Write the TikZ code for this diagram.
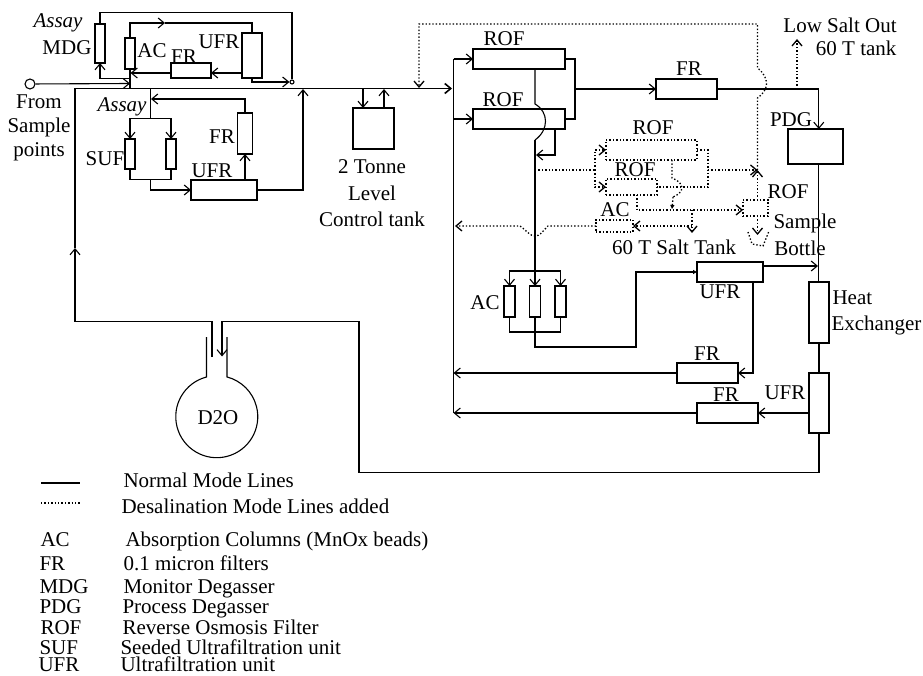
\documentclass[tikz,border=0pt]{standalone}
\usepackage{fontspec}
\setmainfont{Liberation Serif}
\usetikzlibrary{arrows.meta}
\tikzset{
  unit/.style 2 args={draw,inner sep=0pt,outer sep=0pt,minimum width=#1pt,minimum height=#2pt},
  arr/.style={-{Straight Barb[length=6pt,width=10pt]}},
  tri/.style={-{Triangle[open,length=4pt,width=4pt]}},
  salt/.style={line width=1.3pt,dash pattern=on 1.4pt off 2pt},
  main/.style={line width=1.6pt},
  lbl/.style={inner sep=0pt,font=\fontsize{21}{24}\selectfont},
  assay/.style={lbl,font=\fontsize{21}{24}\selectfont\itshape}
}
\begin{document}
\begin{tikzpicture}[x=1pt,y=-1pt,line width=1.1pt]
\useasboundingbox (0,0) rectangle (923,676);
% top sampling loop
\node[draw,circle,inner sep=0pt,minimum size=10pt] (src) at (30,84) {};
\node[unit={10}{39}] (mdg) at (100,43.5) {};
\node[unit={10}{31}] (acTop) at (130,53.5) {};
\node[unit={20}{45}] (ufrTop) at (252,55.5) {};
\node[unit={40}{15}] (frTop) at (191,70.5) {};
\node[draw,circle,inner sep=0pt,minimum size=4pt] (endA) at (292,82) {};
\coordinate (topA) at (292,12.5);
\coordinate (acRun) at (165,23);
\coordinate (frIn) at (211,73);
\coordinate (acIn) at (130.5,73);
\coordinate (junA) at (130,83.5);
\coordinate (junB) at (130,78.5);
\coordinate (mainA) at (130,88.5);
\draw (mdg.north) |- (topA) -- (endA.north);
\draw[arr] (acTop.north) |- (acRun);
\draw (acRun) -| (ufrTop.north);
\draw[arr] (ufrTop.west |- frIn) -- (frIn);
\draw[arr] (frTop.west |- frIn) -- (acIn);
\draw[arr] (src) -- (junA);
\draw (acTop.south) -- (mainA);
\draw[arr] (junB) -| (mdg.south);
\draw[arr] (ufrTop.south) |- (endA.west);
% main line
\coordinate (mainL) at (75,88.5);
\coordinate (mainR) at (452,88.5);
\coordinate (upMark) at (75,248);
\coordinate (cornerL) at (75,321.5);
\coordinate (flaskOut) at (212,357);
\coordinate (flaskIn) at (222,356.5);
\coordinate (retB) at (359,472.5);
\draw[main,arr] (mainL) -- (mainR);
\draw[arr] (flaskOut) |- (cornerL) -- (upMark);
\draw (upMark) -- (mainL);
% D2O flask
\node[lbl] (flask) at (218,418) {D2O};
\draw (206.5,337) -- (206.5,377) arc[start angle=104.5,end angle=435.5,radius=41pt] -- (227,337);
% lower sampling loop
\node[unit={10}{30}] (sufL) at (130,154) {};
\node[unit={10}{30}] (sufR) at (171,154) {};
\node[unit={66}{20}] (ufrLow) at (224,190) {};
\node[unit={15}{41}] (frLow) at (245,133.5) {};
\coordinate (mainB) at (150.5,88.5);
\coordinate (splitA) at (150.5,118.5);
\coordinate (retA) at (151,99);
\coordinate (barA) at (150.5,179.5);
\coordinate (mainC) at (303,89);
\draw (mainB) -- (splitA);
\draw[arr] (splitA) -| (sufL.north);
\draw[arr] (splitA) -| (sufR.north);
\draw[arr] (frLow.north) |- (retA);
\draw (sufL.south) |- (barA) -| (sufR.south);
\draw[arr] (barA) |- (ufrLow.west);
\draw[arr] (ufrLow.north -| frLow) -- (frLow.south);
\draw[arr] (ufrLow.east) -| (mainC);
% level tank
\node[unit={41}{41}] (tank) at (373.5,128.5) {};
\coordinate (tankIn) at (363,88.5);
\coordinate (tankOut) at (384,89);
\draw[arr] (tankIn) -- (tank.north -| tankIn);
\draw[arr] (tank.north -| tankOut) -- (tankOut);
% reverse osmosis and product line
\coordinate (busT) at (453.5,59);
\coordinate (busB) at (453.5,413);
\node[unit={92}{20}] (rofA) at (519,59) {};
\node[unit={92}{20}] (rofB) at (519,119) {};
\node[unit={61}{20}] (frC) at (686.5,89) {};
\node[unit={55}{35}] (pdg) at (815.5,146.5) {};
\node[unit={20}{61}] (hx) at (819,312.5) {};
\node[unit={20}{60}] (ufrE) at (819,403) {};
\coordinate (rofR) at (575,89);
\coordinate (pdgIn) at (818.8,89);
\coordinate (lowOut) at (797,39);
\draw[main] (busT) -- (busB);
\draw[arr] (busT) -- (rofA.west);
\draw[arr] (rofB.west -| busT) -- (rofB.west);
\draw (rofA.east) -| (rofR) |- (rofB.east);
\draw[arr] (rofR) -- (frC.west);
\draw[main] (frC.east) -- (pdgIn);
\draw[arr] (pdgIn) -- (pdg.north -| pdgIn);
\draw (pdg.south -| pdgIn) -- (hx.north -| pdgIn);
\draw (hx.south) -- (ufrE.north);
\draw[salt,arr] (lowOut |- pdgIn) -- (lowOut);
\draw[arr] (ufrE.south) |- (retB) |- (flaskIn |- cornerL) -- (flaskIn);
% absorption columns
\node[unit={11}{31}] (acLeft) at (509.5,301.5) {};
\node[unit={11}{31}] (acMid) at (535,301.5) {};
\node[unit={11}{31}] (acRight) at (560.5,301.5) {};
\node[unit={66}{20}] (ufrM) at (730,272) {};
\node[unit={61}{20}] (frD) at (707.5,373) {};
\node[unit={61}{20}] (frE) at (727.5,413) {};
\coordinate (rofDrop) at (535,104);
\coordinate (rofJoin) at (535,140);
\coordinate (rofTap) at (555,155);
\coordinate (rofRet) at (536,155);
\coordinate (busAC) at (535,271);
\coordinate (barAC) at (535,332);
\coordinate (acRun2) at (636,347);
\coordinate (hxIn) at (818,266);
\coordinate (frTap) at (753,373);
\draw (rofA.south -| rofDrop) -- (rofDrop) .. controls (549,112) and (549,130) .. (rofJoin);
\draw[arr] (rofJoin) -- (acMid.north);
\draw[arr] (rofB.south -| rofTap) -- (rofTap) -- (rofRet);
\draw[arr] (busAC) -| (acLeft.north);
\draw[arr] (busAC) -| (acRight.north);
\draw (acLeft.south) |- (barAC) -| (acRight.south);
\draw[tri] (acMid.south) |- (acRun2) |- (ufrM.west);
\draw[arr] (ufrM.east |- hxIn) -- (hxIn);
\draw[arr] (ufrM.south -| frTap) -- (frTap) -- (frD.east);
\draw[arr] (frD.west) -- (busB |- frD.west);
\draw[arr] (frE.west) -- (busB);
\draw[arr] (ufrE.west |- frE) -- (frE.east);
% desalination lines
\node[unit={91}{20},salt] (rofC) at (651.5,150) {};
\node[unit={51}{16},salt] (rofD) at (631.5,187) {};
\node[unit={25}{16},salt] (rofS) at (755.5,208) {};
\node[unit={37}{12},salt] (acS) at (614.5,226) {};
\coordinate (saltTap) at (535,170);
\coordinate (saltFork) at (595,170);
\coordinate (saltR) at (708,170);
\coordinate (saltMeet) at (757.5,170);
\coordinate (saltIn) at (419,88);
\coordinate (saltTop) at (757.5,24);
\coordinate (cDrop) at (672,178);
\coordinate (dRun) at (637,210);
\coordinate (tankTap) at (692,210);
\coordinate (saltTank) at (692,233);
\coordinate (acTap) at (692,226);
\coordinate (sampleIn) at (757.5,235);
\draw[salt] (saltTap) -- (saltFork);
\draw[salt,arr] (saltFork) |- (rofC.west);
\draw[salt,arr] (saltFork) |- (rofD.west);
\draw[salt] (rofC.east) -| (saltR) |- (rofD.east);
\draw[salt,arr] (saltR) -- (saltMeet);
\draw[salt,arr] (rofS.north -| saltMeet) -- (saltMeet);
\draw[salt,arr] (rofS.south -| saltMeet) -- (sampleIn);
\draw[salt,arr] (saltMeet) -- (757.5,98) .. controls (769,90) and (770,78) .. (757.5,68) -- (saltTop) -| (saltIn);
\draw[salt] (rofC.south -| cDrop) -- (cDrop) .. controls (685,183) and (685,192) .. (673,197);
\draw[salt,tri] (673,197) -- (672,209);
\draw[salt,arr] (rofD.south -| dRun) -- (dRun) -- (rofS.west |- dRun);
\draw[salt,arr] (tankTap) -- (saltTank);
\draw[salt,arr] (acTap) -- (acS.east);
\draw[salt,arr] (acS.west) -- (548,226) .. controls (542,232) and (540,236) .. (535,236) .. controls (530,236) and (527,231) .. (520,226) -- (455,226);
\draw[salt] (748,232) -- (752,244) -- (763,246) -- (769,231);
% labels
\node[assay] (lbAssayA) at (58,23) {Assay};
\node[lbl] (lbMdg) at (67,48) {MDG};
\node[lbl] (lbAcA) at (152,51) {AC};
\node[lbl] (lbFrA) at (184,57) {FR};
\node[lbl] (lbUfrA) at (219,42) {UFR};
\node[lbl] (lbFrom) at (39,102) {From};
\node[lbl] (lbSample) at (39,127) {Sample};
\node[lbl] (lbPoints) at (39,152) {points};
\node[assay] (lbAssayB) at (122,107) {Assay};
\node[lbl] (lbSuf) at (105,159) {SUF};
\node[lbl] (lbFrB) at (222,137) {FR};
\node[lbl] (lbUfrB) at (212,171) {UFR};
\node[lbl] (lbTonne) at (372,167) {2 Tonne};
\node[lbl] (lbLevel) at (372,193) {Level};
\node[lbl] (lbControl) at (372,219) {Control tank};
\node[lbl] (lbRofA) at (504,39) {ROF};
\node[lbl] (lbRofB) at (503,100) {ROF};
\node[lbl] (lbFrC) at (689,69) {FR};
\node[lbl] (lbLow) at (840,25) {Low Salt Out};
\node[lbl,anchor=east] (lbTank) at (897,48) {60 T tank};
\node[lbl] (lbPdg) at (791,120) {PDG};
\node[lbl] (lbRofC) at (653,128) {ROF};
\node[lbl] (lbRofD) at (635,170) {ROF};
\node[lbl] (lbAcS) at (615,210) {AC};
\node[lbl] (lbSalt) at (674,247) {60 T Salt Tank};
\node[lbl] (lbRofS) at (788,192) {ROF};
\node[lbl] (lbSampleB) at (805,223) {Sample};
\node[lbl] (lbBottle) at (800,248) {Bottle};
\node[lbl] (lbAcB) at (485,303) {AC};
\node[lbl] (lbUfrM) at (720,292) {UFR};
\node[lbl] (lbFrD) at (707,354) {FR};
\node[lbl] (lbFrE) at (726,395) {FR};
\node[lbl] (lbUfrE) at (785,393) {UFR};
\node[lbl,anchor=west] (lbHeat) at (832,298) {Heat};
\node[lbl,anchor=west] (lbExch) at (831,325) {Exchanger};
% legend
\coordinate (keyA) at (41,483);
\coordinate (keyB) at (80,483);
\coordinate (keyC) at (41,503);
\coordinate (keyD) at (80,503);
\draw (keyA) -- (keyB);
\draw[salt] (keyC) -- (keyD);
\foreach \nm/\yy/\xx/\vv in {Normal/487/123/Normal Mode Lines,Desal/513/121/Desalination Mode Lines added} {
  \node[lbl,anchor=base west] (txt\nm) at (\xx,\yy) {\vv};
}
\foreach \kk/\yy/\xk/\xx/\vv in {AC/546/40/125/Absorption Columns (MnOx beads),FR/570/39/123/0.1 micron filters,MDG/593/39/123/Monitor Degasser,PDG/613/39/122/Process Degasser,ROF/634/40/122/Reverse Osmosis Filter,SUF/654/39/120/Seeded Ultrafiltration unit,UFR/671/38/120/Ultrafiltration unit} {
  \node[lbl,anchor=base west] (key\kk) at (\xk,\yy) {\kk};
  \node[lbl,anchor=base west] (txt\kk) at (\xx,\yy) {\vv};
}
\end{tikzpicture}
\end{document}
